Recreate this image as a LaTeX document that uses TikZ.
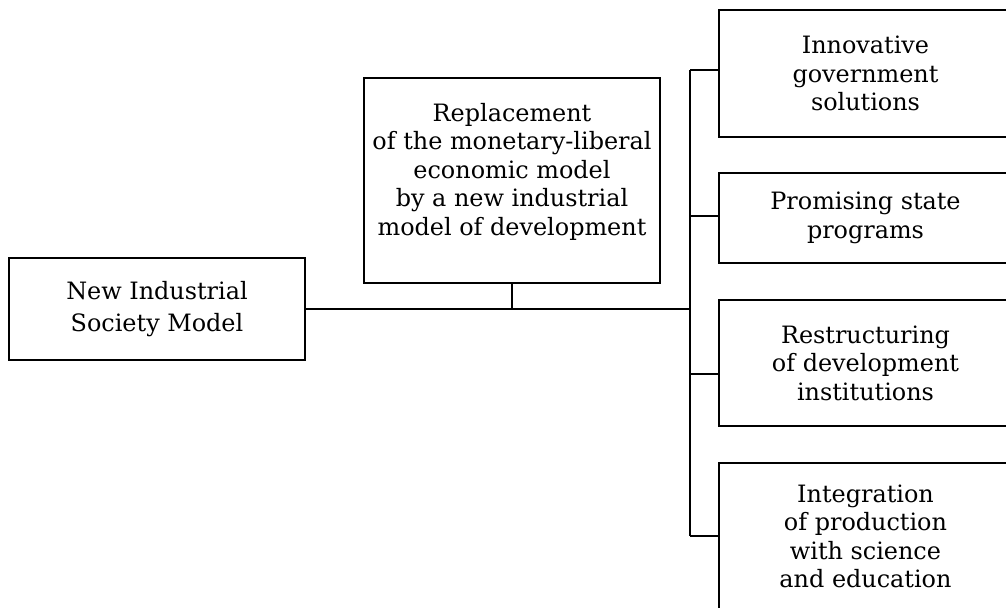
\documentclass[tikz,border=0pt]{standalone}
\usepackage{fontspec}
\setmainfont{DejaVu Serif}
\begin{document}
\begin{tikzpicture}[
  box/.style={draw, rectangle, line width=1pt, align=center, inner sep=0pt, font=\fontsize{13.6}{16.2}\selectfont},
  link/.style={line width=1pt}
]

\useasboundingbox (0,0) rectangle (20.12,-12.16);

% society model and replacement box
\node[box, minimum width=5.92cm, minimum height=2.04cm, font=\fontsize{13.6}{18}\selectfont] at ( 3.14, -6.18) (model) {New Industrial\\Society Model};
\node[box, minimum width=5.92cm, minimum height=4.10cm] at (10.24, -3.61) (repl) {};
\node[align=center, inner sep=0pt, font=\fontsize{13.6}{16.2}\selectfont] at ([yshift=0.18cm]repl.center) (repltext) {Replacement\\of the monetary-liberal\\economic model\\by a new industrial\\model of development};

% right column of measures
\node[box, minimum width=5.86cm, minimum height=2.54cm] at (17.31, -1.47) (innov) {Innovative\\government\\solutions};
\node[box, minimum width=5.86cm, minimum height=1.80cm] at (17.31, -4.36) (progr) {Promising state\\programs};
\node[box, minimum width=5.86cm, minimum height=2.52cm] at (17.31, -7.26) (restr) {Restructuring\\of development\\institutions};
\node[box, minimum width=5.86cm, minimum height=2.94cm] at (17.31,-10.73) (integ) {Integration\\of production\\with science\\and education};

% vertical trunk
\coordinate (tinnov) at (13.8, -1.40);
\coordinate (tprogr) at (13.8, -4.32);
\coordinate (trestr) at (13.8, -7.48);
\coordinate (tinteg) at (13.8,-10.72);
\coordinate (tmain)  at (13.8, -6.18);
\draw[link] (tinnov) -- (tinteg);

% main line and drop from replacement box
\draw[link] (model.east) -- (tmain);
\draw[link] (repl.south) -- (repl.south |- tmain);

% stubs to the right boxes
\draw[link] (tinnov) -- (tinnov -| innov.west);
\draw[link] (tprogr) -- (tprogr -| progr.west);
\draw[link] (trestr) -- (trestr -| restr.west);
\draw[link] (tinteg) -- (tinteg -| integ.west);

\end{tikzpicture}
\end{document}
